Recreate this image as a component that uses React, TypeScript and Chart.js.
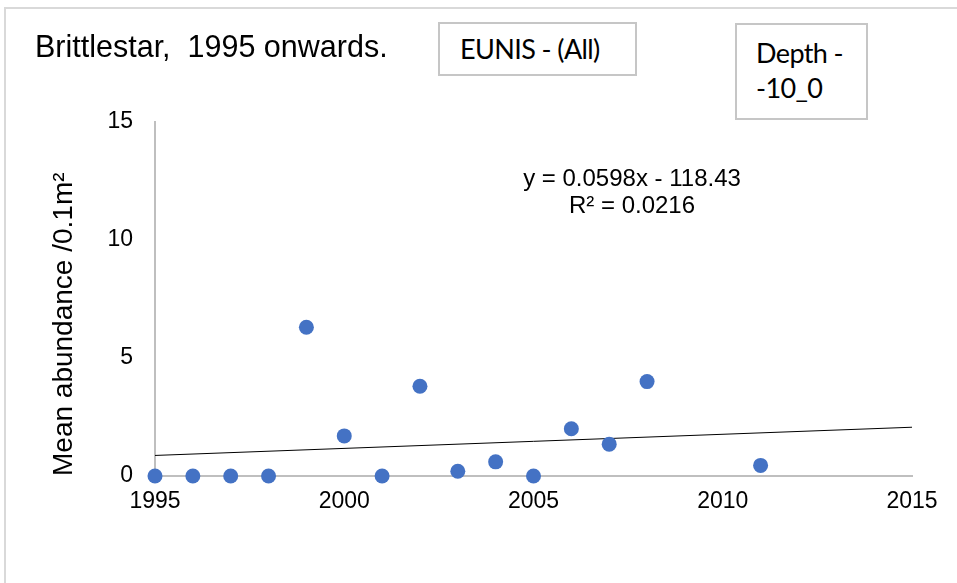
import React, { useEffect, useRef } from "react";
import { Chart, registerables } from "chart.js";

Chart.register(...registerables);

// ---- data ----
const years = [1995, 1996, 1997, 1998, 1999, 2000, 2001, 2002, 2003, 2004, 2005, 2006, 2007, 2008, 2011];
const abundance = [0, 0, 0, 0, 6.3, 1.7, 0, 3.8, 0.2, 0.6, 0, 2.0, 1.35, 4.0, 0.45];
const xTickValues = [1995, 2000, 2005, 2010, 2015];
const yTickValues = [0, 5, 10, 15];
const trendSlope = 0.0598;
const trendIntercept = -118.43;
const trendYears = [1995, 2015];

const titleText = "Brittlestar,  1995 onwards.";
const eunisText = "EUNIS - (All)";
const depthLines = ["Depth -", "-10_0"];
const yAxisTitle = "Mean abundance /0.1m\u00B2";
const equationLines = ["y = 0.0598x - 118.43", "R\u00B2 = 0.0216"];

const ARIAL = "'Liberation Sans', Arial, sans-serif";
const NARROW = "Lato, 'Liberation Sans', sans-serif";

export default function App() {
  const canvasRef = useRef<HTMLCanvasElement | null>(null);

  useEffect(() => {
    const canvas = canvasRef.current;
    if (!canvas) return;
    const chart = new Chart(canvas, {
      type: "scatter",
      data: {
        datasets: [
          {
            type: "scatter",
            data: years.map((x, i) => ({ x, y: abundance[i] })),
            backgroundColor: "#4472C4",
            borderColor: "#4472C4",
            pointRadius: 7.5,
            pointBorderWidth: 0,
            pointHoverRadius: 7.5,
            clip: false,
            order: 1,
          } as any,
          {
            type: "line",
            data: trendYears.map((x) => ({ x, y: trendSlope * x + trendIntercept })),
            borderColor: "#000000",
            borderWidth: 1,
            pointRadius: 0,
            fill: false,
            tension: 0,
            order: 2,
          } as any,
        ],
      },
      options: {
        responsive: false,
        animation: false,
        events: [],
        layout: { padding: { left: 0, right: 45, top: 122, bottom: 0 } },
        plugins: {
          legend: { display: false },
          tooltip: { enabled: false },
          title: { display: false },
        },
        scales: {
          x: {
            type: "linear",
            min: 1995,
            max: 2015,
            afterBuildTicks: (scale: any) => {
              scale.ticks = xTickValues.map((v) => ({ value: v }));
            },
            afterFit: (scale: any) => {
              scale.height = 107;
            },
            grid: { display: false, drawTicks: false },
            border: { display: true, color: "#bfbfbf", width: 2 },
            ticks: {
              color: "#000000",
              padding: 12,
              maxRotation: 0,
              autoSkip: false,
              font: { family: ARIAL, size: 23 },
              callback: (v: any) => String(v),
            },
          },
          y: {
            type: "linear",
            min: 0,
            max: 15,
            afterBuildTicks: (scale: any) => {
              scale.ticks = yTickValues.map((v) => ({ value: v }));
            },
            afterFit: (scale: any) => {
              scale.width = 155;
            },
            grid: { display: false, drawTicks: false },
            border: { display: true, color: "#bfbfbf", width: 2 },
            ticks: {
              color: "#000000",
              padding: 22,
              autoSkip: false,
              font: { family: ARIAL, size: 23 },
              callback: (v: any) => String(v),
            },
            title: {
              display: true,
              text: yAxisTitle,
              align: "start",
              color: "#000000",
              font: { family: ARIAL, size: 28 },
              padding: { top: 47, bottom: 0 },
            },
          },
        },
      },
    });
    return () => chart.destroy();
  }, []);

  return (
    <div
      style={{
        position: "fixed",
        left: 0,
        top: 0,
        width: 957,
        height: 583,
        overflow: "hidden",
        background: "#ffffff",
      }}
    >
      <div
        style={{
          position: "absolute",
          left: 4,
          top: 7,
          width: 1100,
          height: 800,
          borderLeft: "2px solid #d9d9d9",
          borderTop: "2px solid #d9d9d9",
          boxSizing: "border-box",
        }}
      />
      <canvas
        ref={canvasRef}
        width={957}
        height={583}
        style={{ position: "absolute", left: 0, top: 0, width: 957, height: 583 }}
      />
      <div
        style={{
          position: "absolute",
          left: 35,
          top: 27,
          font: `30.5px ${ARIAL}`,
          lineHeight: "38px",
          whiteSpace: "pre",
          color: "#000",
        }}
      >
        {titleText}
      </div>
      <div
        style={{
          position: "absolute",
          left: 438,
          top: 22,
          width: 199,
          height: 54,
          border: "2px solid #c6c6c6",
          boxSizing: "border-box",
          background: "#fff",
        }}
      >
        <div
          style={{
            position: "absolute",
            left: 20,
            top: 8,
            font: `27px ${NARROW}`,
            letterSpacing: "-0.6px",
            lineHeight: "34px",
            whiteSpace: "pre",
            color: "#000",
          }}
        >
          {eunisText}
        </div>
      </div>
      <div
        style={{
          position: "absolute",
          left: 735,
          top: 23,
          width: 133,
          height: 97,
          border: "2px solid #c6c6c6",
          boxSizing: "border-box",
          background: "#fff",
        }}
      >
        {depthLines.map((t, i) => (
          <div
            key={i}
            style={{
              position: "absolute",
              left: 19,
              top: 11 + i * 35,
              font: `27px ${NARROW}`,
              letterSpacing: "-0.6px",
              lineHeight: "34px",
              whiteSpace: "pre",
              color: "#000",
            }}
          >
            {t}
          </div>
        ))}
      </div>
      <div
        style={{
          position: "absolute",
          left: 512,
          top: 164,
          width: 240,
          textAlign: "center",
          font: `24px ${ARIAL}`,
          lineHeight: "27px",
          whiteSpace: "pre",
          color: "#000",
        }}
      >
        {equationLines.map((t, i) => (
          <div key={i}>{t}</div>
        ))}
      </div>
    </div>
  );
}
